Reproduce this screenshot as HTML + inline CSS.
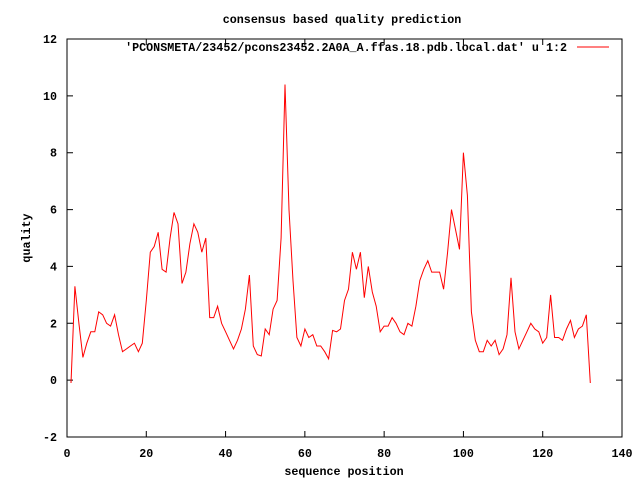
<!DOCTYPE html>
<html><head><meta charset="utf-8"><style>
body{margin:0;background:#fff}
svg text{font-family:"Liberation Mono",monospace;font-size:11.7px;font-weight:bold;fill:#000}
</style></head><body>
<svg id="chart" width="640" height="480" xmlns="http://www.w3.org/2000/svg">
<rect width="640" height="480" fill="#fff"/>
<g id="axes"></g>
<text x="342" y="23" text-anchor="middle">consensus based quality prediction</text>
<text x="344" y="475" text-anchor="middle">sequence position</text>
<text x="30" y="238" text-anchor="middle" transform="rotate(-90 30 238)">quality</text>
<text x="567" y="51" text-anchor="end">'PCONSMETA/23452/pcons23452.2A0A_A.ffas.18.pdb.local.dat' u 1:2</text>
<line x1="577" y1="47" x2="609" y2="47" stroke="#f00" stroke-width="1"/>
<rect x="67" y="39" width="555" height="398" fill="none" stroke="#000" stroke-width="1"/>
</svg>
<script>
const xTicks=[0,20,40,60,80,100,120,140];
const yTicks=[-2,0,2,4,6,8,10,12];
const quality=[-0.1,3.3,2.0,0.8,1.3,1.7,1.7,2.4,2.3,2.0,1.9,2.3,1.6,1.0,1.1,1.2,1.3,1.0,1.3,2.8,4.5,4.7,5.2,3.9,3.8,5.0,5.9,5.5,3.4,3.8,4.8,5.5,5.2,4.5,5.0,2.2,2.2,2.6,2.0,1.7,1.4,1.1,1.4,1.8,2.5,3.7,1.2,0.9,0.85,1.8,1.6,2.5,2.8,5.0,10.4,6.0,3.5,1.5,1.2,1.8,1.5,1.6,1.2,1.2,1.0,0.75,1.75,1.7,1.8,2.8,3.2,4.5,3.9,4.5,2.9,4.0,3.1,2.6,1.7,1.9,1.9,2.2,2.0,1.7,1.6,2.0,1.9,2.6,3.5,3.9,4.2,3.8,3.8,3.8,3.2,4.5,6.0,5.3,4.6,8.0,6.5,2.4,1.4,1.0,1.0,1.4,1.2,1.4,0.9,1.1,1.6,3.6,1.7,1.1,1.4,1.7,2.0,1.8,1.7,1.3,1.5,3.0,1.5,1.5,1.4,1.8,2.1,1.5,1.8,1.9,2.3,-0.1];
const X0=67,X1=622,Y0=437,Y1=39;
const sx=v=>X0+(v-0)/(140-0)*(X1-X0);
const sy=v=>Y0-(v+2)/(12+2)*(Y0-Y1);
const NS="http://www.w3.org/2000/svg";
const svg=document.getElementById('chart');
const axes=document.getElementById('axes');
function mk(t,a){const e=document.createElementNS(NS,t);for(const k in a)e.setAttribute(k,a[k]);return e;}
xTicks.forEach(v=>{
  const x=sx(v);
  const l=mk('path',{d:`M${x} ${Y0}v-6M${x} ${Y1}v6`,stroke:'#000','stroke-width':1});
  
  
  axes.appendChild(l);
  const t=mk('text',{x:x,y:457,'text-anchor':'middle'});
  
  
  t.textContent=v;axes.appendChild(t);
});
yTicks.forEach(v=>{
  const y=sy(v);
  const l=mk('path',{d:`M${X0} ${y}h6M${X1} ${y}h-6`,stroke:'#000','stroke-width':1});
  
  
  axes.appendChild(l);
  const t=mk('text',{x:57,y:y+4,'text-anchor':'end'});
  
  
  t.textContent=v;axes.appendChild(t);
});
const pts=quality.map((v,i)=>sx(i+1).toFixed(1)+','+sy(v).toFixed(1)).join(' ');
const line=mk('polyline',{points:pts,fill:'none',stroke:'#f00','stroke-width':1});


svg.appendChild(line);
</script>
</body></html>
